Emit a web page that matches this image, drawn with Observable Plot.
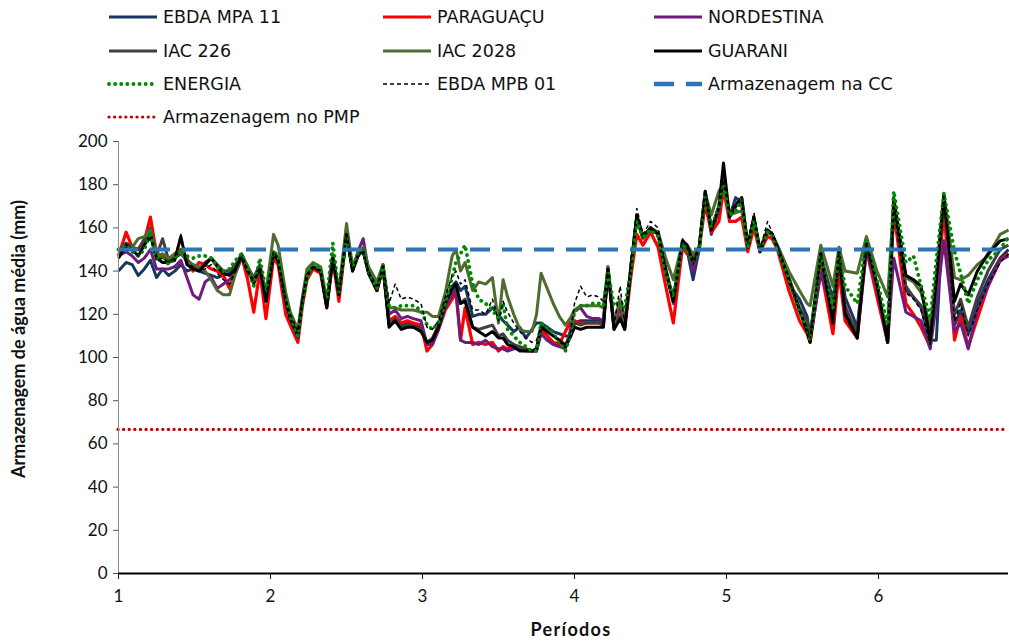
<!DOCTYPE html>
<html><head><meta charset="utf-8">
<script src="https://cdn.jsdelivr.net/npm/d3@7"></script>
<script src="https://cdn.jsdelivr.net/npm/@observablehq/plot@0.6"></script>
<style>
body{margin:0;background:#fff;font-family:Lato,"Liberation Sans",Arial,sans-serif;}
#wrap{position:relative;width:1009px;height:641px;}
#legend{position:relative;width:1009px;height:128px;}
.li{position:absolute;display:flex;align-items:center;font-family:"DejaVu Sans",sans-serif;font-size:17.5px;color:#111;white-space:nowrap;}
.li svg{margin-right:4px;}
</style></head>
<body><div id="wrap"><div id="legend"></div><div id="chart"></div></div>
<script>
const xs = [1.00,1.05,1.09,1.13,1.17,1.21,1.25,1.29,1.33,1.37,1.41,1.45,1.49,1.53,1.57,1.61,1.65,1.69,1.73,1.77,1.81,1.85,1.89,1.93,1.97,2.02,2.05,2.10,2.13,2.18,2.21,2.24,2.28,2.33,2.37,2.41,2.45,2.50,2.54,2.58,2.61,2.645,2.70,2.74,2.78,2.82,2.86,2.90,2.94,2.99,3.03,3.065,3.105,3.15,3.195,3.22,3.25,3.28,3.33,3.37,3.415,3.46,3.50,3.53,3.56,3.60,3.64,3.68,3.72,3.75,3.78,3.82,3.86,3.90,3.94,3.97,4.00,4.04,4.08,4.12,4.16,4.19,4.22,4.26,4.30,4.33,4.37,4.41,4.45,4.50,4.55,4.60,4.65,4.71,4.74,4.78,4.82,4.86,4.90,4.95,4.98,5.02,5.06,5.10,5.14,5.18,5.22,5.27,5.30,5.335,5.41,5.48,5.53,5.55,5.62,5.70,5.74,5.78,5.86,5.92,5.99,6.06,6.10,6.18,6.23,6.28,6.34,6.38,6.43,6.50,6.54,6.59,6.65,6.72,6.80,6.855];

const ebdaMpa11 = [140,144,143,138,141,145,137,141,138,140,143,140,141,140,139,138,137,138,139,143,147,142,135,142,127,148,145,126,118,110,126,138,142,140,124,146,128,157,140,148,149,139,131,142,116,118,115,116,115,114,106,108,114,126,133,135,131,133,119,120,120,123,120,117,115,112,114,109,113,116,116,114,112,111,110,110,116,117,117,117,117,116,141,114,124,114,140,165,155,160,157,141,127,153,150,136,150,176,157,168,180,165,174,172,151,164,149,158,157,151,134,127,119,110,147,127,148,128,114,153,134,108,170,131,128,123,108,108,174,115,122,111,125,136,146,150];
const paraguacu = [147,158,151,150,154,165,148,147,145,148,150,146,140,144,143,141,140,138,132,140,147,136,121,140,118,146,143,120,115,107,124,136,141,139,123,145,126,157,141,148,150,140,131,142,117,119,116,117,116,115,103,106,113,122,127,130,108,123,106,107,106,107,103,105,104,106,104,103,103,103,113,110,107,106,112,116,117,116,116,116,116,115,141,113,124,113,137,157,152,158,151,133,116,151,148,146,150,171,158,163,178,163,163,165,149,160,149,156,155,150,131,117,111,107,141,111,140,117,109,150,128,107,168,125,120,114,105,130,168,108,119,105,118,133,145,148];
const nordestina = [147,149,147,144,146,150,141,141,141,142,145,137,129,127,135,137,132,134,136,139,146,141,134,141,126,148,145,126,118,109,126,138,142,140,124,146,129,157,141,150,155,140,132,143,120,122,118,119,118,117,106,106,113,123,129,132,108,107,107,106,108,105,104,104,103,104,104,104,103,103,111,108,106,105,104,112,122,123,119,118,118,117,141,114,125,114,140,165,155,160,157,140,125,153,150,140,150,176,160,168,181,166,172,170,151,164,150,159,157,151,137,122,113,108,139,121,146,124,110,150,132,107,146,121,119,117,104,125,154,112,116,104,122,133,145,147];
const iac226 = [149,153,151,150,155,160,147,155,145,146,148,145,143,141,144,146,143,140,140,143,148,142,137,143,129,149,146,128,120,112,127,139,142,141,124,147,130,158,141,148,150,140,132,143,115,118,114,115,114,113,107,109,115,126,131,133,125,127,114,113,114,115,110,111,108,106,105,104,103,104,115,112,110,108,106,110,116,115,116,116,116,115,142,114,119,114,141,165,156,160,158,141,126,154,152,144,151,177,159,170,183,166,170,174,152,165,150,159,157,151,137,123,117,110,148,120,149,122,112,153,134,108,170,133,128,124,106,135,174,120,127,114,128,140,150,152];
const iac2028 = [148,151,151,155,156,159,147,148,146,148,149,144,143,142,140,136,131,129,129,139,147,142,136,142,130,157,152,130,121,113,128,141,144,142,126,148,131,162,142,149,151,142,135,143,123,123,122,122,122,121,121,119,119,130,147,150,140,144,131,135,134,137,116,136,128,120,113,112,112,120,139,132,125,119,115,118,122,124,124,124,124,123,142,116,127,116,142,164,155,159,158,146,136,153,152,148,151,176,166,177,180,166,167,168,152,163,150,159,157,152,140,131,125,124,152,133,151,140,139,156,140,128,172,137,135,130,114,138,176,137,136,138,143,147,157,159];
const guarani = [146,152,150,147,152,157,146,144,144,145,156,143,141,140,143,146,142,139,138,141,147,140,135,142,126,148,145,126,118,110,126,138,142,140,123,146,129,157,140,148,149,139,131,142,114,117,113,114,114,112,107,108,114,125,132,134,125,126,114,112,110,112,109,109,106,105,103,103,103,104,114,112,110,108,105,109,114,113,114,114,114,114,141,113,118,113,141,166,156,160,157,140,126,154,152,144,151,177,159,170,190,165,170,174,151,165,149,159,157,151,136,122,112,107,148,116,149,120,109,153,134,107,174,138,136,133,108,136,175,126,134,129,140,148,154,155];
const energia = [150,152,149,147,150,158,145,147,143,146,150,147,146,147,147,146,142,140,141,145,148,141,133,146,131,149,147,128,119,110,125,137,143,141,127,153,130,155,142,148,150,140,132,142,124,123,124,124,124,122,115,113,116,125,137,144,148,152,134,127,125,122,118,125,113,110,107,105,103,103,116,114,111,107,103,110,121,124,124,125,125,124,140,124,126,123,140,163,156,159,156,139,128,153,149,144,150,176,160,170,180,166,168,173,151,163,150,158,157,151,136,121,114,108,147,123,148,133,125,154,136,115,177,144,147,133,118,145,176,149,139,125,136,145,150,156];
const ebdaMpb01 = [149,151,150,147,152,155,145,146,144,146,157,144,142,140,141,143,139,136,134,140,147,140,134,142,128,149,146,127,120,112,127,138,142,140,124,147,129,157,141,147,149,140,133,142,125,134,127,128,127,125,114,113,117,128,138,140,134,136,122,122,120,127,117,126,121,116,112,109,107,108,114,112,110,108,106,110,125,133,128,129,128,126,141,115,133,115,145,169,157,163,160,142,125,155,152,143,152,177,159,169,181,168,171,174,153,167,150,163,158,152,137,121,114,109,147,118,148,121,110,153,133,108,170,130,127,122,106,134,174,117,125,110,122,134,144,148];

const CC = 150;
const PMP = 66.7;
const yTicks = [0,20,40,60,80,100,120,140,160,180,200];
const xTicks = [1,2,3,4,5,6];

const series = [
  {name:"EBDA MPA 11", vals:ebdaMpa11, stroke:"#17375E", w:3},
  {name:"PARAGUAÇU", vals:paraguacu, stroke:"#FF0000", w:3.2},
  {name:"NORDESTINA", vals:nordestina, stroke:"#6E1A7E", w:3},
  {name:"IAC 226", vals:iac226, stroke:"#404040", w:3},
  {name:"IAC 2028", vals:iac2028, stroke:"#4F6B2F", w:3},
  {name:"GUARANI", vals:guarani, stroke:"#000000", w:3},
  {name:"ENERGIA", vals:energia, stroke:"#008A00", w:3.8, dash:"0.1,6", cap:"round"},
  {name:"EBDA MPB 01", vals:ebdaMpb01, stroke:"#000000", w:1.5, dash:"4,3"}
];

const marks = [];
for (const s of series) {
  const data = xs.map((x,i)=>({x, y:s.vals[i]}));
  marks.push(Plot.line(data, {x:"x", y:"y", stroke:s.stroke, strokeWidth:s.w,
    strokeDasharray:s.dash||null, strokeLinecap:s.cap||"butt", strokeLinejoin:"round"}));
}
marks.push(Plot.ruleY([CC], {stroke:"#2E75B6", strokeWidth:4, strokeDasharray:"20,12"}));
marks.push(Plot.ruleY([PMP], {stroke:"#C00000", strokeWidth:3.2, strokeDasharray:"0.1,5.5", strokeLinecap:"round"}));
marks.push(Plot.ruleX([1], {y1:0, y2:200, stroke:"#8c8c8c", strokeWidth:1}));
marks.push(Plot.ruleY([0], {stroke:"#000", strokeWidth:2}));
marks.push(Plot.axisY({ticks:yTicks, tickSize:5, tickPadding:6, fontSize:17, label:null, stroke:"#555"}));
marks.push(Plot.axisX({ticks:xTicks, tickSize:6, tickPadding:10, fontSize:17, label:null, tickFormat:d=>String(d)}));

const chart = Plot.plot({
  width:1009, height:513,
  marginTop:13, marginBottom:68, marginLeft:118, marginRight:1,
  x:{domain:[1,6.855]},
  y:{domain:[0,200]},
  style:{fontFamily:'Lato,"Liberation Sans",Arial,sans-serif', color:"#111", background:"#fff", overflow:"visible"},
  marks
});
document.getElementById("chart").appendChild(chart);

// axis titles (SVG text)
const svg = d3.select(chart);
svg.append("text").attr("x",571).attr("y",508).attr("text-anchor","middle")
  .attr("font-size",18).attr("font-weight","bold").attr("letter-spacing","1.3px").attr("fill","#111").text("Períodos");
svg.append("text").attr("transform","translate(25,211) rotate(-90)").attr("text-anchor","middle")
  .attr("font-size",18).attr("font-weight","bold").attr("fill","#111").text("Armazenagem de água média (mm)");

// legend
const legendItems = [
  {name:"EBDA MPA 11", stroke:"#17375E", w:3},
  {name:"PARAGUAÇU", stroke:"#FF0000", w:3},
  {name:"NORDESTINA", stroke:"#6E1A7E", w:3},
  {name:"IAC 226", stroke:"#404040", w:3},
  {name:"IAC 2028", stroke:"#4F6B2F", w:3},
  {name:"GUARANI", stroke:"#000000", w:3},
  {name:"ENERGIA", stroke:"#008A00", w:3.8, dash:"0.1,6", cap:"round"},
  {name:"EBDA MPB 01", stroke:"#000000", w:1.5, dash:"4,3"},
  {name:"Armazenagem na CC", stroke:"#2E75B6", w:4.5, dash:"20,12"},
  {name:"Armazenagem no PMP", stroke:"#C00000", w:3.2, dash:"0.1,5.5", cap:"round"}
];
const colX = [107, 381, 652];
const rowY = [17, 51, 84, 117];
const leg = document.getElementById("legend");
legendItems.forEach((it,i)=>{
  const c = i%3, r = Math.floor(i/3);
  const d = document.createElement("div");
  d.className="li";
  d.style.left = colX[c]+"px";
  d.style.top = (rowY[r]-12)+"px";
  d.style.height="24px";
  d.innerHTML = `<svg width="52" height="10"><line x1="2" x2="50" y1="5" y2="5" stroke="${it.stroke}" stroke-width="${it.w}" ${it.dash?`stroke-dasharray="${it.dash}"`:""} stroke-linecap="${it.cap||"butt"}"/></svg><span>${it.name}</span>`;
  leg.appendChild(d);
});
</script></body></html>
